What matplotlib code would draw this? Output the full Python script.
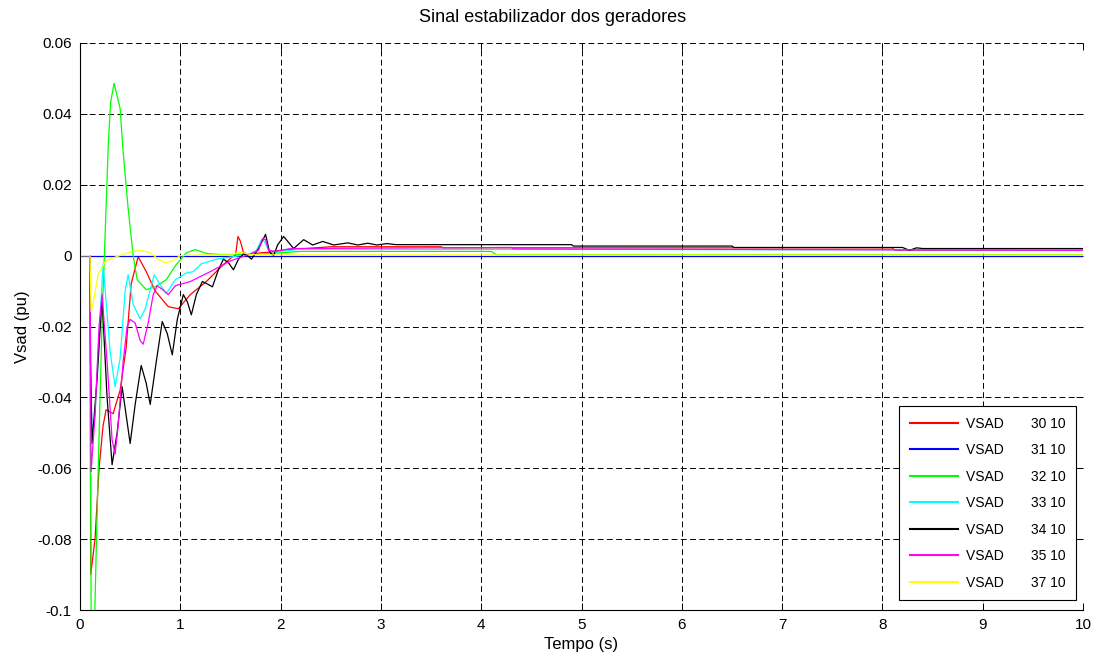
import matplotlib
matplotlib.use("Agg")
import matplotlib.pyplot as plt

plt.rcParams['font.family'] = ['Liberation Sans', 'DejaVu Sans']
plt.rcParams['axes.unicode_minus'] = False

# VSAD 30 10 (red)
t_30 = [0, 0.1, 0.107, 0.15, 0.19, 0.23, 0.26, 0.33, 0.4, 0.46, 0.51, 0.58, 0.66, 0.75, 0.88, 0.98,
        1.1, 1.26, 1.43, 1.52, 1.55, 1.575, 1.6, 1.63, 1.7, 1.8, 1.9, 2.0, 2.5, 3.6, 3.62, 8.1, 8.12, 10]
v_30 = [0, 0, -0.09, -0.08, -0.06, -0.048, -0.0435, -0.0446, -0.038, -0.026, -0.008, -0.0003, -0.0045,
        -0.010, -0.0144, -0.015, -0.011, -0.0073, -0.0025, -0.0003, 0.0, 0.0054, 0.004, 0.0008, 0.0003,
        0.0008, 0.001, 0.0015, 0.0025, 0.0025, 0.0022, 0.0022, 0.0015, 0.0015]

# VSAD 31 10 (blue)
t_31 = [0, 10]
v_31 = [0, 0]

# VSAD 32 10 (green)
t_32 = [0, 0.1, 0.105, 0.112, 0.13, 0.148, 0.166, 0.2, 0.226, 0.243, 0.283, 0.306, 0.34, 0.4, 0.43,
        0.48, 0.53, 0.57, 0.66, 0.75, 0.86, 0.96, 1.06, 1.15, 1.26, 1.4, 1.8, 2.2, 4.1, 4.15, 10]
v_32 = [0, 0, -0.06, -0.108, -0.112, -0.1, -0.078, -0.04, -0.013, 0.0, 0.032, 0.0434, 0.0486, 0.0415,
        0.0293, 0.0133, 0.0, -0.0068, -0.0096, -0.0088, -0.0068, -0.0025, 0.0008, 0.0017, 0.0006,
        0.0003, 0.0004, 0.0012, 0.0012, 0.0003, 0.0003]

# VSAD 33 10 (cyan)
t_33 = [0, 0.1, 0.105, 0.12, 0.15, 0.18, 0.23, 0.3, 0.35, 0.4, 0.45, 0.48, 0.53, 0.6, 0.65, 0.74,
        0.8, 0.86, 0.95, 1.0, 1.05, 1.13, 1.21, 1.36, 1.53, 1.7, 1.76, 1.81, 1.84, 1.9, 2.0, 2.2, 10]
v_33 = [0, 0, -0.03, -0.05, -0.045, -0.027, -0.0023, -0.027, -0.037, -0.029, -0.010, -0.0054,
        -0.0138, -0.0178, -0.015, -0.0054, -0.0082, -0.0107, -0.0068, -0.006, -0.005, -0.0045,
        -0.0023, -0.001, -0.0003, 0.0006, 0.0015, 0.0045, 0.004, 0.0003, 0.0012, 0.0018, 0.0016]

# VSAD 34 10 (black)
t_34 = [0, 0.1, 0.105, 0.12, 0.17, 0.22, 0.27, 0.32, 0.37, 0.42, 0.46, 0.5, 0.55, 0.61, 0.66, 0.7,
        0.76, 0.82, 0.87, 0.92, 0.97, 1.03, 1.07, 1.11, 1.16, 1.22, 1.27, 1.32, 1.38, 1.43, 1.48,
        1.53, 1.58, 1.63, 1.67, 1.71, 1.78, 1.85, 1.89, 1.93, 1.97, 2.03, 2.13, 2.23, 2.32, 2.42,
        2.53, 2.67, 2.77, 2.87, 2.96, 3.06, 3.15, 4.9, 4.92, 6.5, 6.52, 8.2, 8.27, 8.34, 8.4, 10]
v_34 = [0, 0, -0.03, -0.053, -0.035, -0.012, -0.04, -0.059, -0.05, -0.037, -0.045, -0.053, -0.042,
        -0.031, -0.036, -0.042, -0.03, -0.0186, -0.022, -0.028, -0.018, -0.011, -0.013, -0.0167,
        -0.011, -0.0073, -0.008, -0.0088, -0.004, -0.001, -0.002, -0.004, -0.001, 0.0005, 0.0,
        -0.001, 0.002, 0.006, 0.001, 0.0, 0.003, 0.0054, 0.002, 0.0045, 0.003, 0.004, 0.003,
        0.0036, 0.003, 0.0035, 0.003, 0.0034, 0.0031, 0.0031, 0.0027, 0.0027, 0.0023, 0.0023,
        0.0015, 0.0022, 0.002, 0.002]

# VSAD 35 10 (magenta)
t_35 = [0, 0.1, 0.105, 0.11, 0.15, 0.19, 0.22, 0.27, 0.32, 0.35, 0.38, 0.43, 0.47, 0.5, 0.55, 0.6,
        0.63, 0.68, 0.73, 0.77, 0.82, 0.88, 0.95, 1.1, 1.3, 1.5, 1.7, 1.78, 1.82, 1.85, 1.88, 1.95,
        2.1, 4.3, 4.32, 10]
v_35 = [0, 0, -0.03, -0.061, -0.045, -0.02, -0.011, -0.03, -0.052, -0.056, -0.048, -0.03, -0.02,
        -0.018, -0.019, -0.024, -0.025, -0.019, -0.011, -0.0085, -0.0095, -0.011, -0.0085, -0.0073,
        -0.0045, -0.0015, 0.0005, 0.0015, 0.0048, 0.0045, 0.0015, 0.0012, 0.002, 0.0023, 0.0019,
        0.0015]

# VSAD 37 10 (yellow)
t_37 = [0, 0.1, 0.11, 0.14, 0.18, 0.25, 0.31, 0.43, 0.52, 0.62, 0.7, 0.78, 0.85, 0.92, 1.0, 1.2,
        1.5, 1.6, 1.7, 2.0, 10]
v_37 = [0, 0, -0.0158, -0.012, -0.0054, -0.0017, -0.0008, 0.0003, 0.0012, 0.0014, 0.0008, -0.001,
        -0.002, -0.0015, 0.0, 0.0002, 0.0002, 0.001, 0.0003, 0.0002, 0.0002]

series = [(t_30, v_30, '#ff0000', '30 10'),
          (t_31, v_31, '#0000ff', '31 10'),
          (t_32, v_32, '#00ff00', '32 10'),
          (t_33, v_33, '#00ffff', '33 10'),
          (t_34, v_34, '#000000', '34 10'),
          (t_35, v_35, '#ff00ff', '35 10'),
          (t_37, v_37, '#ffff00', '37 10')]

y_ticks = [-0.1, -0.08, -0.06, -0.04, -0.02, 0, 0.02, 0.04, 0.06]
y_labels = ['-0.1', '-0.08', '-0.06', '-0.04', '-0.02', '0', '0.02', '0.04', '0.06']

fig = plt.figure(figsize=(10.98, 6.64), dpi=100)
ax = fig.add_axes([80 / 1098, 54 / 664, 1003 / 1098, 567 / 664])

for t, v, c, name in series:
    ax.plot(t, v, color=c, lw=0.9, label='VSAD       ' + name)

ax.set_xlim(0, 10)
ax.set_ylim(-0.1, 0.06)
ax.set_xticks(range(0, 11))
ax.set_yticks(y_ticks)
ax.set_yticklabels(y_labels)
ax.grid(True, color='k', linestyle=(0, (6, 3.5)), lw=0.7)
ax.spines['top'].set_visible(False)
ax.spines['right'].set_visible(False)
ax.tick_params(direction='in', top=True, right=True, length=5, width=0.7, labelsize=11, pad=6)

ax.set_xlabel('Tempo (s)', fontsize=12, labelpad=3)
ax.set_ylabel('Vsad (pu)', fontsize=12, labelpad=5)
fig.text(553 / 1098, 1 - 18 / 664, 'Sinal estabilizador dos geradores', ha='center', va='center', fontsize=13)

leg = ax.legend(loc='lower right', bbox_to_anchor=(0.993, 0.0176), borderaxespad=0, fontsize=10,
                handlelength=3.5, handletextpad=0.55, labelspacing=0.9, borderpad=0.75,
                fancybox=False, framealpha=1, edgecolor='k')
leg.get_frame().set_linewidth(0.8)
for line in leg.get_lines():
    line.set_linewidth(1.5)

fig.savefig('out.png', dpi=100)
